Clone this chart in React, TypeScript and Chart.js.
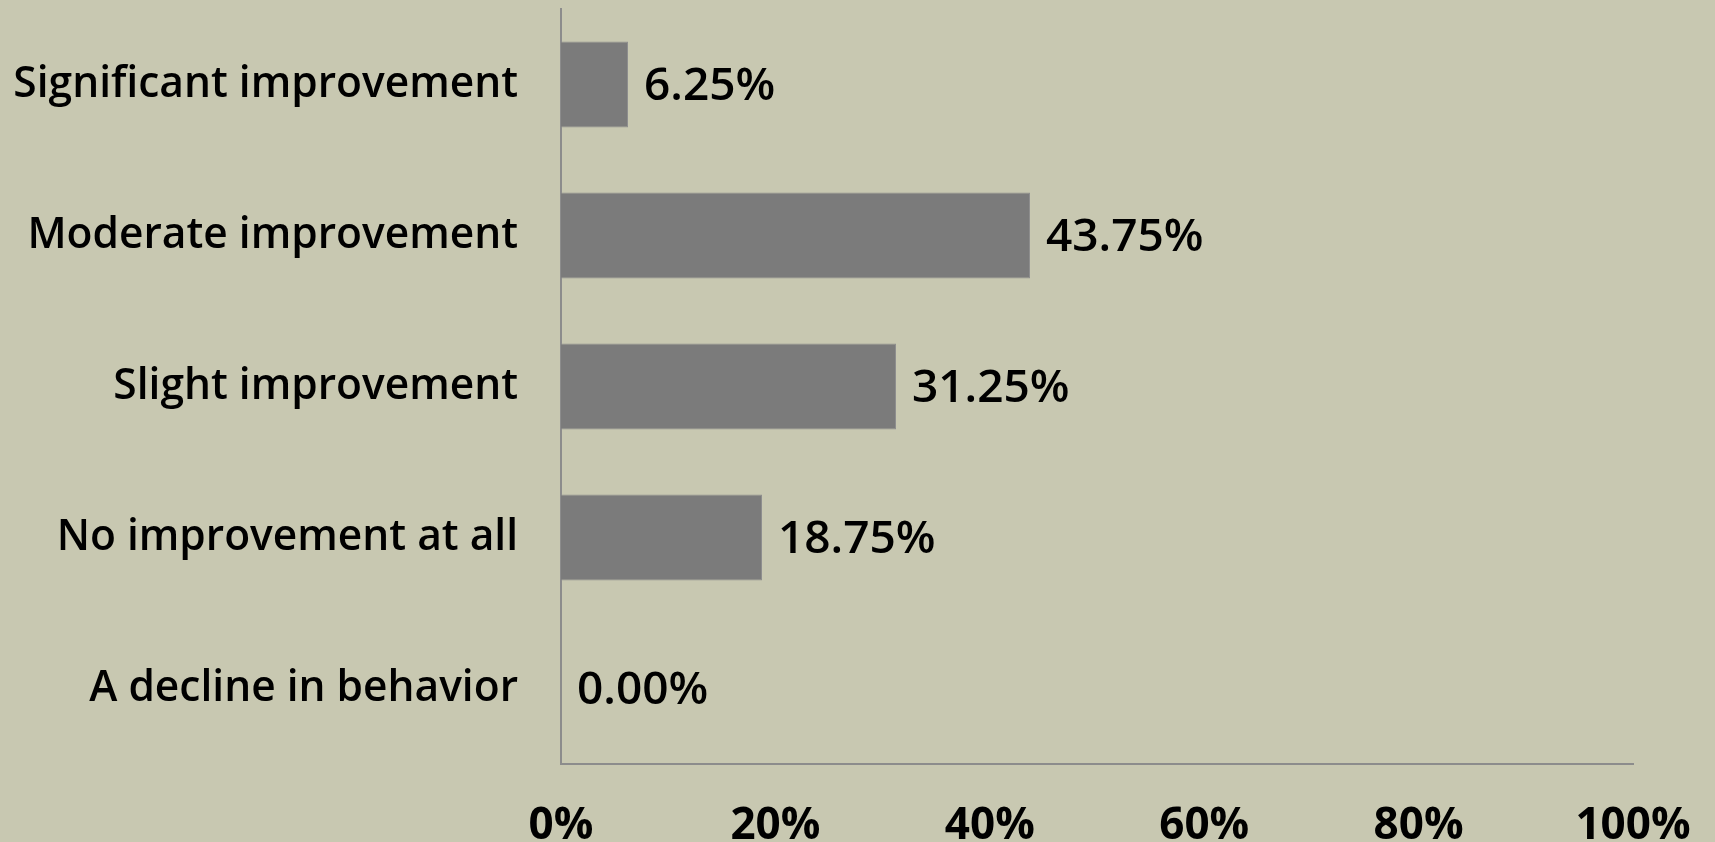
import React, { useEffect, useRef } from "react";
import { Chart, registerables } from "chart.js";

Chart.register(...registerables);

const categories = [
  "Significant improvement",
  "Moderate improvement",
  "Slight improvement",
  "No improvement at all",
  "A decline in behavior",
];
const values = [6.25, 43.75, 31.25, 18.75, 0.0];
const xTicks = [0, 20, 40, 60, 80, 100];

const FONT = "'Open Sans', 'Liberation Sans', sans-serif";

const valueLabels = {
  id: "valueLabels",
  afterDatasetsDraw(chart: any) {
    const ctx = chart.ctx;
    const meta = chart.getDatasetMeta(0);
    ctx.save();
    ctx.fillStyle = "#000000";
    ctx.font = `600 46px ${FONT}`;
    ctx.textAlign = "left";
    ctx.textBaseline = "middle";
    meta.data.forEach((bar: any, i: number) => {
      const v = values[i];
      ctx.fillText(v.toFixed(2) + "%", bar.x + 16, bar.y + 2);
    });
    ctx.restore();
  },
};

export default function App() {
  const ref = useRef<HTMLCanvasElement | null>(null);
  useEffect(() => {
    document.body.style.margin = "0";
    const chart = new Chart(ref.current as HTMLCanvasElement, {
      type: "bar",
      data: {
        labels: categories,
        datasets: [
          {
            data: values,
            backgroundColor: "#7b7b7b",
            borderColor: "#8e8e8e",
            borderWidth: 1,
            categoryPercentage: 1,
            barPercentage: 0.57,
          },
        ],
      },
      options: {
        indexAxis: "y",
        animation: false,
        responsive: false,
        maintainAspectRatio: false,
        layout: { padding: { top: 9, right: 82, left: 0, bottom: 0 } },
        plugins: { legend: { display: false }, tooltip: { enabled: false } },
        scales: {
          x: {
            min: 0,
            max: 100,
            afterBuildTicks(scale: any) {
              scale.ticks = xTicks.map((v) => ({ value: v }));
            },
            afterFit(scale: any) {
              scale.height = 78;
              scale.paddingLeft = 0;
              scale.paddingRight = 0;
            },
            grid: { display: false },
            border: { display: true, color: "#8c8c8c", width: 2 },
            ticks: {
              color: "#000000",
              font: { family: FONT, size: 44, weight: "bold" },
              padding: 28,
              maxRotation: 0,
              callback: (v: any) => v + "%",
            },
          },
          y: {
            afterFit(scale: any) {
              scale.width = 561;
              scale.paddingTop = 0;
              scale.paddingBottom = 0;
            },
            grid: { display: false },
            border: { display: true, color: "#8c8c8c", width: 2 },
            ticks: {
              color: "#000000",
              font: { family: FONT, size: 42.5, weight: "600" },
              padding: 35,
            },
          },
        },
      },
      plugins: [valueLabels],
    });
    return () => chart.destroy();
  }, []);
  return (
    <div style={{ width: 1715, height: 842, background: "#c8c8b1" }}>
      <canvas ref={ref} width={1715} height={842} style={{ display: "block" }} />
    </div>
  );
}
